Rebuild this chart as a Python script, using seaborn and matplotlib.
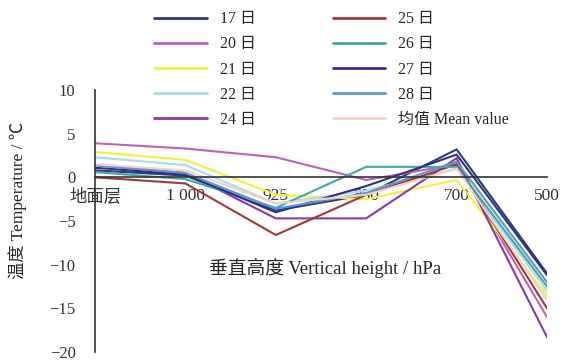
import matplotlib
matplotlib.use("Agg")
import matplotlib.pyplot as plt
import seaborn as sns
import pandas as pd
import numpy as np

levels = ["地面层", "1 000", "925", "850", "700", "500"]
series_names = ["17 日", "20 日", "21 日", "22 日", "24 日",
                "25 日", "26 日", "27 日", "28 日", "均值 Mean value"]
d17 = [0.8, 0.2, -3.8, -2.0, 3.2, -11.0]
d20 = [3.9, 3.3, 2.3, -0.3, 1.5, -16.0]
d21 = [2.9, 2.0, -2.0, -2.5, -0.3, -13.5]
d22 = [2.3, 1.4, -3.0, -1.5, 1.0, -13.0]
d24 = [1.4, 0.5, -4.7, -4.7, 2.2, -18.3]
d25 = [0.0, -0.7, -6.6, -2.0, 1.5, -15.0]
d26 = [0.6, -0.2, -3.5, 1.2, 1.2, -12.5]
d27 = [1.1, 0.3, -4.0, -1.0, 2.6, -11.2]
d28 = [1.4, 0.5, -3.6, -1.8, 1.8, -12.0]
dmean = [1.5, 0.8, -3.0, -2.0, 1.0, -14.0]
yticks = [-20, -15, -10, -5, 0, 5, 10]

colors = ["#2E3A7A", "#C060B8", "#F0F040", "#A8DCE8", "#8838A8",
          "#A03838", "#40A8A8", "#303088", "#5898D0", "#F8D0C0"]

all_vals = [d17, d20, d21, d22, d24, d25, d26, d27, d28, dmean]
rows = []
for name, vals in zip(series_names, all_vals):
    for i, v in enumerate(vals):
        rows.append({"level": i, "temp": v, "day": name})
df = pd.DataFrame(rows)

sns.set_theme(style="white")
plt.rcParams["font.family"] = ["Liberation Serif", "Noto Sans CJK SC", "DejaVu Sans"]

fig = plt.figure(figsize=(5.65, 3.61), dpi=100)
ax = fig.add_axes([95/565, 1-352/361, (547-95)/565, (352-90)/361])

sns.lineplot(data=df, x="level", y="temp", hue="day", hue_order=series_names,
             palette=dict(zip(series_names, colors)), sort=False,
             linewidth=1.5, ax=ax, legend=True)

ax.set_xlim(0, 5)
ax.set_ylim(-20, 10)
ax.set_yticks(yticks)
ax.set_yticklabels([str(t).replace("-", "−") for t in yticks])
ax.set_xticks(range(len(levels)))
ax.set_xticklabels(levels)

for s in ["top", "right"]:
    ax.spines[s].set_visible(False)
ax.spines["bottom"].set_position(("data", 0))
for s in ["left", "bottom"]:
    ax.spines[s].set_color("#333333")
    ax.spines[s].set_linewidth(1.2)
ax.tick_params(axis="y", direction="in", length=4, width=1, colors="#333333",
               pad=14, labelsize=12)
ax.tick_params(axis="x", direction="inout", length=3, width=1, colors="#333333",
               pad=6, labelsize=12.5)

ax.set_xlabel("")
ax.set_ylabel("温度 Temperature / ℃", fontsize=12.5)
ax.yaxis.set_label_coords(-0.15, 0.58)
ax.text(2.55, -10.4, "垂直高度 Vertical height / hPa", fontsize=13.5,
        ha="center", va="center")

handles, labels = ax.get_legend_handles_labels()
leg = ax.legend(handles, labels, ncol=2, loc="upper left",
                bbox_to_anchor=(140/565, 1.0 + 3/361), bbox_transform=fig.transFigure,
                frameon=False, fontsize=11.5, handlelength=3.3,
                labelspacing=0.57, columnspacing=4.8, handletextpad=0.8)
for line in leg.get_lines():
    line.set_linewidth(2)

fig.savefig("out.png", dpi=100)
